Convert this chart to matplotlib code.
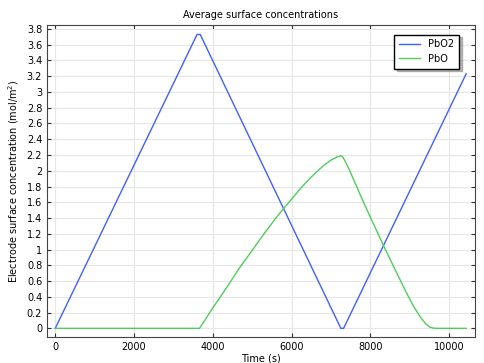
import matplotlib
matplotlib.use("Agg")
import matplotlib.pyplot as plt

# Datos
t_pbo2 = [0, 3600, 3680, 7250, 7320, 10430]
c_pbo2 = [0, 3.73, 3.73, 0, 0, 3.23]

t_pbo = [0, 3660, 3800, 4000, 4300, 4695, 5000, 5300, 5600, 5779, 6000, 6200, 6400,
         6600, 6810, 7000, 7150, 7250, 7300, 7360, 7450, 7825, 8333, 8700, 8926,
         9100, 9264, 9400, 9500, 9600, 9700, 10430]
c_pbo = [0, 0, 0.105, 0.26, 0.48, 0.78, 0.99, 1.20, 1.40, 1.51, 1.64, 1.76, 1.87,
         1.97, 2.065, 2.135, 2.175, 2.19, 2.175, 2.12, 2.03, 1.60, 1.05, 0.67, 0.44,
         0.275, 0.147, 0.06, 0.018, 0.003, 0, 0]

xticks = [0, 2000, 4000, 6000, 8000, 10000]
yticks = [round(0.2 * i, 1) for i in range(20)]

fig = plt.figure(figsize=(4.85, 3.63), dpi=100)
ax = fig.add_axes([0.0969, 0.0716, 0.882, 0.8595])

ax.plot(t_pbo2, c_pbo2, color="#4060ff", lw=1.0, label="PbO2")
ax.plot(t_pbo, c_pbo, color="#50cc5c", lw=1.0, label="PbO")

ax.set_xlim(-209, 10649)
ax.set_ylim(-0.11, 3.85)
ax.set_xticks(xticks)
ax.set_yticks(yticks)
ax.set_yticklabels([f"{v:g}" for v in yticks])
ax.grid(True, color="#e6e6e6", lw=0.8)
ax.set_axisbelow(True)
ax.tick_params(direction="in", top=True, right=True, labelsize=7, length=3, color="#333333")
for s in ax.spines.values():
    s.set_color("#444444")

ax.set_title("Average surface concentrations", fontsize=7, pad=5)
ax.set_xlabel("Time (s)", fontsize=7, labelpad=1)
ax.set_ylabel("Electrode surface concentration (mol/m$^2$)", fontsize=7, labelpad=4)

leg = ax.legend(loc="upper right", fontsize=7, fancybox=False, shadow={"color": "#888888", "alpha": 0.6},
                edgecolor="black", framealpha=1, borderpad=0.5, handlelength=2.2,
                labelspacing=0.45, bbox_to_anchor=(0.975, 0.985))
leg.get_frame().set_linewidth(1.0)

plt.savefig("out.png", dpi=100)
